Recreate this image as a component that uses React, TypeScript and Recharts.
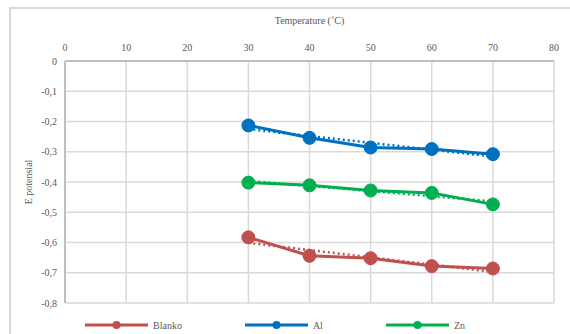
import { CartesianGrid, Legend, Line, LineChart, XAxis, YAxis } from "recharts";

// temperature (°C) and measured potential per inhibitor
const temperatures = [30, 40, 50, 60, 70];
const blanko = [-0.583, -0.644, -0.652, -0.678, -0.686];
const al = [-0.213, -0.254, -0.286, -0.291, -0.308];
const zn = [-0.402, -0.411, -0.428, -0.436, -0.474];

// linear trendline end points (30 °C and 70 °C)
const trendTemps = [30, 70];
const blankoTrend = [-0.601, -0.697];
const alTrend = [-0.225, -0.316];
const znTrend = [-0.396, -0.464];

const xTicks = [0, 10, 20, 30, 40, 50, 60, 70, 80];
const yTicks = [0, -0.1, -0.2, -0.3, -0.4, -0.5, -0.6, -0.7, -0.8];

const series = [
  { key: "blanko", name: "Blanko", color: "#C0504D", values: blanko, trend: blankoTrend },
  { key: "al", name: "Al", color: "#0070C0", values: al, trend: alTrend },
  { key: "zn", name: "Zn", color: "#00B050", values: zn, trend: znTrend }
];

const data = temperatures.map((t, i) => ({
  t,
  blanko: blanko[i],
  al: al[i],
  zn: zn[i]
}));

const textColor = "#595959";
const serif = "'Liberation Serif', 'DejaVu Serif', serif";
const textStyle = { fontSize: 10, fill: textColor, fontFamily: serif };

function formatComma(value: number) {
  return String(value).replace(".", ",");
}

function LegendContent() {
  return (
    <div
      style={{
        height: 29,
        display: "flex",
        alignItems: "flex-end",
        paddingLeft: 85,
        paddingBottom: 1,
        boxSizing: "border-box",
        gap: 63,
        fontFamily: serif,
        fontSize: 10,
        color: textColor
      }}
    >
      {series.map((s) => (
        <div key={s.key} style={{ display: "flex", alignItems: "center", height: 12 }}>
          <svg width={63} height={12}>
            <line x1={0} y1={6} x2={63} y2={6} stroke={s.color} strokeWidth={3} />
            <circle cx={31.5} cy={6} r={4} fill={s.color} />
          </svg>
          <span style={{ marginLeft: 5 }}>{s.name}</span>
        </div>
      ))}
    </div>
  );
}

export default function App() {
  return (
    <div style={{ position: "absolute", left: 0, top: 0, width: 570, height: 334, overflow: "hidden", background: "#fff" }}>
      <div
        style={{
          position: "absolute",
          left: 9,
          top: 7,
          width: 570,
          height: 340,
          border: "2px solid #d9d9d9",
          boxSizing: "border-box"
        }}
      />
      <div style={{ position: "absolute", left: 0, top: 0, fontFamily: serif }}>
        <LineChart
          width={570}
          height={334}
          data={data}
          margin={{ top: 8, right: 16, bottom: 2, left: 0 }}
        >
          <CartesianGrid stroke="#d9d9d9" strokeWidth={1.5} />
          <XAxis
            dataKey="t"
            type="number"
            orientation="top"
            domain={[0, 80]}
            ticks={xTicks}
            height={53}
            tickLine={false}
            tickMargin={4}
            axisLine={{ stroke: "#bfbfbf", strokeWidth: 2 }}
            tick={textStyle}
            label={{
              value: "Temperature (˚C)",
              position: "insideTop",
              offset: 9,
              ...textStyle
            }}
          />
          <YAxis
            type="number"
            domain={[-0.8, 0]}
            ticks={yTicks}
            width={65}
            tickLine={false}
            axisLine={{ stroke: "#bfbfbf", strokeWidth: 2 }}
            tick={textStyle}
            tickFormatter={formatComma}
            label={{
              value: "E potensial",
              angle: -90,
              position: "center",
              dx: -4,
              ...textStyle
            }}
          />
          <Legend verticalAlign="bottom" content={<LegendContent />} />
          {series.map((s) => (
            <Line
              key={s.key}
              dataKey={s.key}
              name={s.name}
              type="linear"
              stroke={s.color}
              strokeWidth={3}
              dot={{ r: 6.5, fill: s.color, stroke: s.color, strokeWidth: 1 }}
              activeDot={false}
              isAnimationActive={false}
            />
          ))}
          {series.map((s) => (
            <Line
              key={`${s.key}-trend`}
              data={trendTemps.map((t, i) => ({ t, v: s.trend[i] }))}
              dataKey="v"
              type="linear"
              stroke={s.color}
              strokeWidth={2.5}
              strokeDasharray="2 3"
              dot={false}
              activeDot={false}
              legendType="none"
              isAnimationActive={false}
            />
          ))}
        </LineChart>
      </div>
    </div>
  );
}
